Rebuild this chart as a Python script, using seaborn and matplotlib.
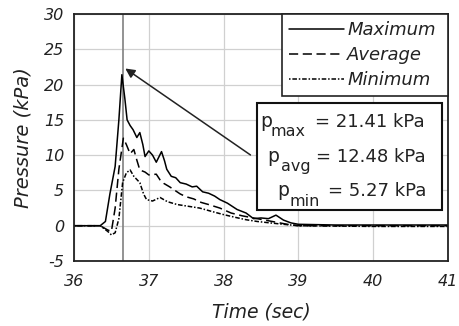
import matplotlib
matplotlib.use("Agg")
import matplotlib.pyplot as plt
import seaborn as sns
import pandas as pd
from matplotlib.patches import Rectangle
from matplotlib.lines import Line2D

max_t = [36.0, 36.35, 36.42, 36.48, 36.55, 36.60, 36.64, 36.68, 36.71, 36.75, 36.79, 36.84, 36.88, 36.92, 36.95, 37.0, 37.05, 37.1, 37.17, 37.21, 37.24, 37.3, 37.36, 37.42, 37.5, 37.58, 37.64, 37.72, 37.8, 37.88, 37.95, 38.05, 38.18, 38.3, 38.4, 38.5, 38.6, 38.7, 38.8, 38.9, 39.0, 39.5, 40.0, 41.0]
max_p = [0.0, 0.0, 0.6, 4.5, 8.4, 15.0, 21.4, 18.0, 15.0, 14.2, 13.6, 12.5, 13.2, 11.5, 9.8, 10.6, 10.0, 9.0, 10.5, 9.2, 8.0, 7.0, 6.8, 6.1, 5.9, 5.5, 5.6, 4.8, 4.6, 4.2, 3.7, 3.2, 2.3, 1.8, 1.0, 1.1, 1.0, 1.5, 0.8, 0.4, 0.2, 0.1, 0.1, 0.1]

avg_t = [36.0, 36.35, 36.45, 36.5, 36.55, 36.6, 36.66, 36.7, 36.75, 36.8, 36.84, 36.88, 36.95, 37.0, 37.1, 37.15, 37.2, 37.28, 37.35, 37.42, 37.5, 37.6, 37.7, 37.8, 37.95, 38.1, 38.25, 38.4, 38.55, 38.7, 38.85, 39.0, 40.0, 41.0]
avg_p = [0, 0, -0.6, -0.8, 2.5, 8, 12.4, 11.5, 10.2, 10.8, 9.3, 7.9, 7.6, 7.2, 7.3, 6.5, 6.0, 5.5, 5.0, 4.5, 4.1, 3.8, 3.3, 3.0, 2.5, 1.8, 1.4, 1.1, 0.8, 0.5, 0.2, 0.0, 0.0, 0.0]

min_t = [36.0, 36.35, 36.45, 36.5, 36.55, 36.6, 36.65, 36.7, 36.75, 36.8, 36.88, 36.93, 36.97, 37.05, 37.15, 37.25, 37.38, 37.5, 37.68, 37.85, 37.99, 38.15, 38.3, 38.45, 38.62, 38.8, 39.0, 40.0, 41.0]
min_p = [0, 0, -0.8, -1.3, -1.0, 1.0, 6.1, 7.5, 7.9, 7.0, 6.1, 4.5, 3.7, 3.5, 4.0, 3.4, 3.0, 2.8, 2.5, 2.0, 1.6, 1.2, 0.85, 0.6, 0.4, 0.2, 0.0, -0.1, -0.1]

series_names = ["Maximum", "Average", "Minimum"]
x_ticks = [36, 37, 38, 39, 40, 41]
y_ticks = [-5, 0, 5, 10, 15, 20, 25, 30]
peak_time = 36.655
stat_subs = ["max", "avg", "min"]
stat_values = ["21.41", "12.48", "5.27"]

sns.set_theme(style="white")
plt.rcParams['font.family'] = ['DejaVu Sans']
plt.rcParams['mathtext.fontset'] = 'dejavusans'

W, H = 460, 326
AX_L, AX_T, AX_W, AX_H = 74, 14, 374, 247
fig = plt.figure(figsize=(W / 100, H / 100), dpi=100)
ax = fig.add_axes([AX_L / W, 1 - (AX_T + AX_H) / H, AX_W / W, AX_H / H])

def px(x, y):
    # pixel position (from top-left of image) -> axes fraction
    return (x - AX_L) / AX_W, (AX_T + AX_H - y) / AX_H

styles = ["-", (0, (6, 3)), (0, (1, 1.2, 3, 1.2))]
data = [(max_t, max_p), (avg_t, avg_p), (min_t, min_p)]
for (t, p), name, ls in zip(data, series_names, styles):
    df = pd.DataFrame({"t": t, "p": p})
    sns.lineplot(data=df, x="t", y="p", ax=ax, color="black", lw=1.1, linestyle=ls, legend=False)

ax.axvline(peak_time, color="#808080", lw=1.2, zorder=1)

ax.set_xlim(36, 41)
ax.set_ylim(-5, 30)
ax.set_xticks(x_ticks)
ax.set_yticks(y_ticks)
tick_font = dict(fontstyle="italic", fontsize=11.5, color="#222222")
ax.set_xticklabels([str(v) for v in x_ticks], **tick_font)
ax.set_yticklabels([str(v) for v in y_ticks], **tick_font)
ax.grid(True, color="#d0d0d0", lw=0.9)
ax.set_axisbelow(True)
for s in ax.spines.values():
    s.set_color("#222222")
    s.set_linewidth(1.3)
ax.tick_params(axis="x", length=0, pad=9)
ax.tick_params(axis="y", length=0, pad=7)
ax.set_xlabel("Time (sec)", fontstyle="italic", fontsize=13.5, color="#222222", labelpad=10)
ax.set_ylabel("Pressure (kPa)", fontstyle="italic", fontsize=14, color="#222222", labelpad=8)

handles = [Line2D([], [], color="black", lw=1.1, linestyle=ls) for ls in styles]
lx0, ly0 = px(282, 95)
lx1, ly1 = px(448, 14)
leg = ax.legend(handles, series_names, loc="upper left", bbox_to_anchor=(lx0, ly0, lx1 - lx0, ly1 - ly0),
                mode="expand", frameon=True, fancybox=False, edgecolor="#222222", framealpha=1,
                prop={"style": "italic", "size": 13}, handlelength=3.05, handletextpad=0.17,
                borderaxespad=0, labelspacing=0.38, borderpad=0.4)
leg.get_frame().set_linewidth(1.2)
for txt in leg.get_texts():
    txt.set_color("#222222")

ax.annotate("", xy=(peak_time, 22.5), xytext=(38.39, 9.8),
            arrowprops=dict(arrowstyle="-|>", color="#222222", lw=1.1, mutation_scale=14), zorder=4)

bx0, by0 = px(257, 210)
bx1, by1 = px(442, 103)
box = Rectangle((bx0, by0), bx1 - bx0, by1 - by0, transform=ax.transAxes, facecolor="white",
                edgecolor="#111111", lw=1.5, zorder=5)
ax.add_patch(box)

# layout of each row: (x of "p", x of subscript, x of "=", baseline y) in pixels
rows_layout = [(260, 271, 315, 127), (267, 281, 316, 161.5), (277, 290, 328, 196)]
for sub, val, (xp, xs, xe, yb) in zip(stat_subs, stat_values, rows_layout):
    ax.text(*px(xp, yb), "p", transform=ax.transAxes, fontsize=13.5, color="#222222",
            va="baseline", ha="left", zorder=6)
    ax.text(*px(xs, yb + 9.5), sub, transform=ax.transAxes, fontsize=11.5, color="#222222",
            va="baseline", ha="left", zorder=6)
    ax.text(*px(xe, yb), "= " + val + " kPa", transform=ax.transAxes, fontsize=13, color="#222222",
            va="baseline", ha="left", zorder=6)

fig.savefig("out.png", dpi=100)
